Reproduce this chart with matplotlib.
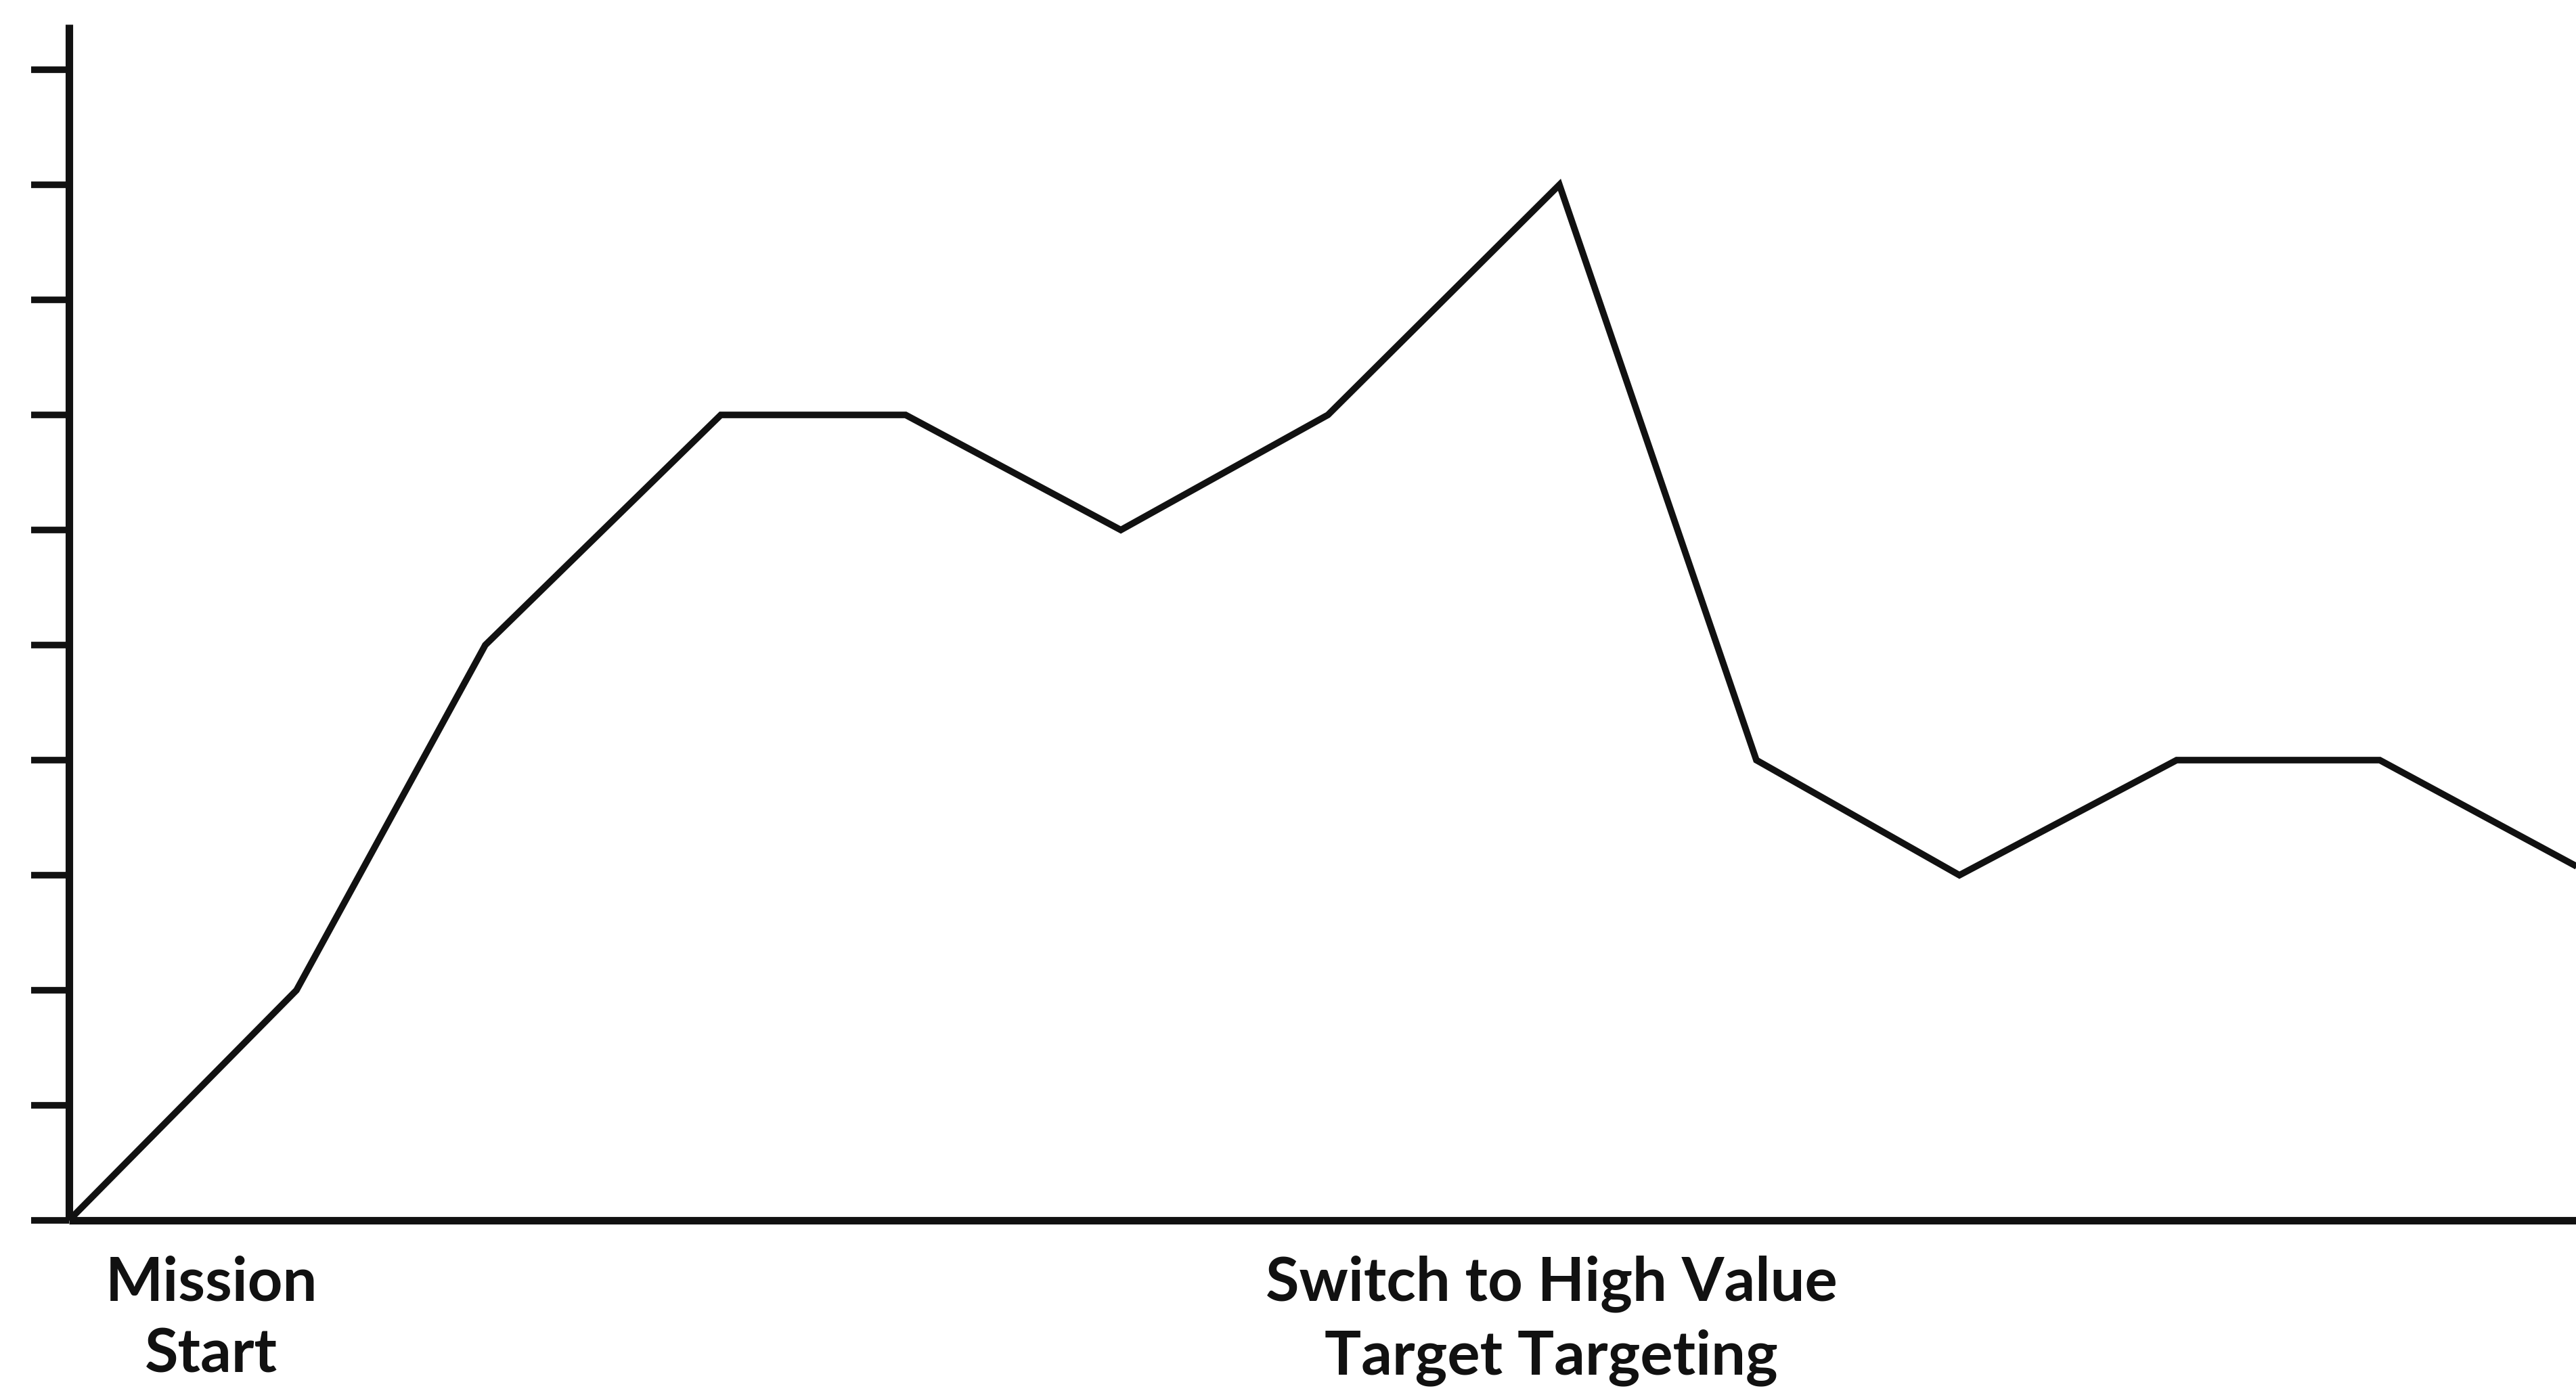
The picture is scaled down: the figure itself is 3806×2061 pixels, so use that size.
import matplotlib
matplotlib.use("Agg")
import matplotlib.pyplot as plt
from matplotlib.transforms import blended_transform_factory

# ---- data ----
time_points = [0.0, 1.12, 2.05, 3.21, 4.12, 5.18, 6.20, 7.34, 8.31, 9.31, 10.38, 11.38, 12.43]
level_values = [0, 2, 5, 7, 7, 6, 7, 9, 4, 3, 4, 4, 3]
y_ticks = [0, 1, 2, 3, 4, 5, 6, 7, 8, 9, 10]
event_labels = ["Mission\nStart", "Switch to High Value\nTarget Targeting"]
event_x = [0.70, 7.30]

W, H, DPI = 3806, 2061, 100
fig = plt.figure(figsize=(W / DPI, H / DPI), dpi=DPI, facecolor="white")

ax_left_px, ax_bottom_px, ax_top_px = 102, 1803, 36
ax = fig.add_axes([ax_left_px / W, (H - ax_bottom_px) / H,
                   1 - ax_left_px / W, (ax_bottom_px - ax_top_px) / H])
ax.set_facecolor("white")

ax.plot(time_points, level_values, color="#111111", lw=7.0,
        solid_joinstyle="miter", solid_capstyle="butt", clip_on=True)

ax.set_xlim(0, (W - ax_left_px) / 300)
ax.set_ylim(0, (ax_bottom_px - ax_top_px) / 170)

for s in ["top", "right"]:
    ax.spines[s].set_visible(False)
for s in ["left", "bottom"]:
    ax.spines[s].set_linewidth(8.0)
    ax.spines[s].set_color("#111111")
    ax.spines[s].set_capstyle("butt")

ax.set_yticks(y_ticks)
ax.set_yticklabels([])
ax.set_xticks([])
ax.tick_params(axis="y", direction="out", length=40, width=7.0, color="#111111")

trans = blended_transform_factory(ax.transData, ax.transAxes)
for lbl, xv in zip(event_labels, event_x):
    ax.annotate(lbl, xy=(xv, 0), xycoords=trans, xytext=(0, -37),
                textcoords="offset points", ha="center", va="top",
                fontsize=65, fontweight="bold", linespacing=1.36,
                family=["Lato", "Open Sans", "DejaVu Sans"],
                color="#111111", annotation_clip=False)

fig.savefig("out.png", dpi=DPI, facecolor="white")
